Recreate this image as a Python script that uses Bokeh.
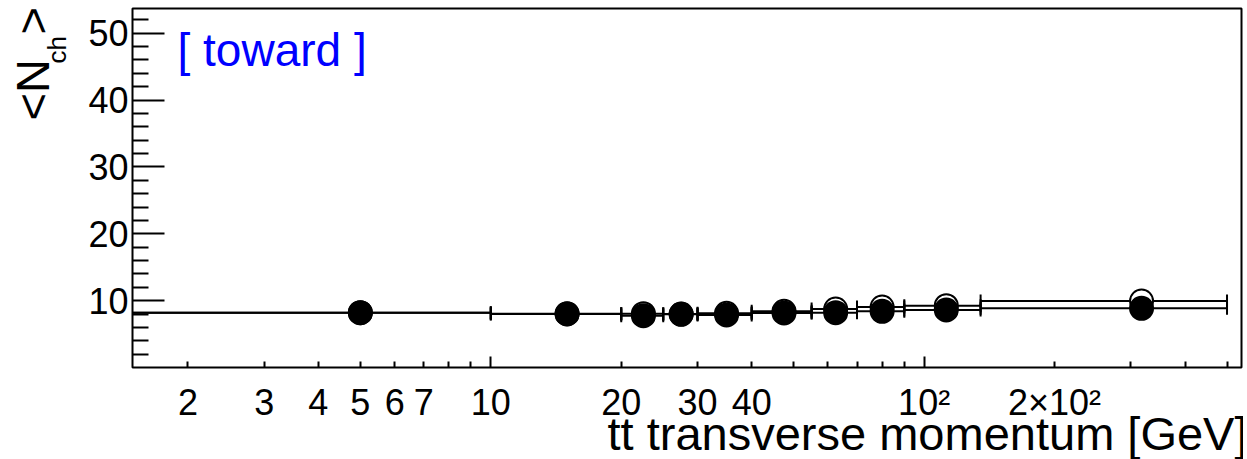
import numpy as np
from math import pi
from bokeh.plotting import figure
from bokeh.layouts import row
from bokeh.models import Range1d, FixedTicker, LogAxis, Label, Title
from bokeh.embed import file_html
from bokeh.resources import INLINE

# ---- data ----
bin_lo = [0, 10, 20, 25, 30, 40, 55, 70, 90, 135]
bin_hi = [10, 20, 25, 30, 40, 55, 70, 90, 135, 500]
bin_center = [5, 15, 22.5, 27.5, 35, 47.5, 62.5, 80, 112.5, 317.5]
nch_filled = [8.2, 8.0, 7.75, 7.95, 7.85, 8.15, 8.2, 8.4, 8.6, 8.85]
nch_open = [8.2, 8.05, 8.05, 8.0, 8.1, 8.4, 8.75, 9.05, 9.25, 9.95]

x_label_ticks = [2, 3, 4, 5, 6, 7, 10, 20, 30, 40, 100, 200]
x_label_text = ["2", "3", "4", "5", "6", "7", "10", "20", "30", "40", "10\u00b2", "2\u00d710\u00b2"]
x_major_ticks = [10, 100]
x_minor_ticks = [2, 3, 4, 5, 6, 7, 8, 9, 20, 30, 40, 50, 60, 70, 80, 90, 200, 300, 400, 500]
y_major_ticks = [10, 20, 30, 40, 50]
y_minor_ticks = [2, 4, 6, 8, 12, 14, 16, 18, 22, 24, 26, 28, 32, 34, 36, 38, 42, 44, 46, 48, 52]

FONT = "Liberation Sans"
H = 459
LEFT_W = 70
BORDER_TOP = 8
BORDER_BOTTOM = 92
FRAME_BOTTOM = H - BORDER_BOTTOM

# ---- main plot ----
p = figure(width=1173, height=H, x_axis_type="log",
           x_range=Range1d(1.49, 540), y_range=Range1d(0, 53.7),
           output_backend="svg", toolbar_location=None,
           min_border_left=62, min_border_right=2,
           min_border_top=BORDER_TOP, min_border_bottom=BORDER_BOTTOM)
p.background_fill_color = "white"
p.border_fill_color = "white"
p.outline_line_color = "black"
p.outline_line_width = 2
p.xgrid.visible = False
p.ygrid.visible = False

# x axis A: ticks only
xa = p.xaxis[0]
xa.ticker = FixedTicker(ticks=x_major_ticks, minor_ticks=x_minor_ticks)
xa.axis_line_color = None
xa.major_tick_in = 11
xa.major_tick_out = 0
xa.minor_tick_in = 6
xa.minor_tick_out = 0
xa.major_tick_line_width = 2
xa.minor_tick_line_width = 2
xa.major_label_text_font_size = "0px"
xa.major_label_standoff = 0
xa.major_label_overrides = {t: "" for t in x_major_ticks}

# x axis B: labels only
xb = LogAxis(ticker=FixedTicker(ticks=x_label_ticks, minor_ticks=[]))
xb.axis_line_color = None
xb.major_tick_in = 0
xb.major_tick_out = 0
xb.minor_tick_in = 0
xb.minor_tick_out = 0
xb.major_tick_line_color = None
xb.minor_tick_line_color = None
xb.major_label_overrides = dict(zip(x_label_ticks, x_label_text))
xb.major_label_text_font = FONT
xb.major_label_text_font_size = "36px"
xb.major_label_text_color = "black"
xb.major_label_standoff = 14
p.add_layout(xb, "below")

# x title
p.add_layout(Title(text="tt transverse momentum [GeV]", align="right", vertical_align="bottom",
                   standoff=-41, offset=-6, text_font=FONT, text_font_size="47px",
                   text_font_style="normal", text_color="black"), "below")

# y axis
ya = p.yaxis[0]
ya.ticker = FixedTicker(ticks=y_major_ticks, minor_ticks=y_minor_ticks)
ya.axis_line_color = None
ya.major_tick_in = 32
ya.major_tick_out = 0
ya.minor_tick_in = 16
ya.minor_tick_out = 0
ya.major_tick_line_width = 2
ya.minor_tick_line_width = 2
ya.major_label_text_font = FONT
ya.major_label_text_font_size = "36px"
ya.major_label_text_color = "black"
ya.major_label_standoff = 4

lo_draw = np.maximum(np.array(bin_lo, dtype=float), 1.0)
hi = np.array(bin_hi, dtype=float)

def draw_series(yvals, fill):
    y = np.array(yvals, dtype=float)
    p.segment(x0=lo_draw, y0=y, x1=hi, y1=y, line_color="black", line_width=2)
    p.scatter(x=hi, y=y, marker="dash", angle=pi / 2, size=13, line_color="black", line_width=2)
    p.scatter(x=lo_draw, y=y, marker="dash", angle=pi / 2, size=13, line_color="black", line_width=2)
    p.scatter(x=bin_center, y=y, marker="circle", size=23, fill_color=fill,
              line_color="black", line_width=2)

draw_series(nch_open, "white")
draw_series(nch_filled, "black")

p.add_layout(Label(x=45, y=318, x_units="screen", y_units="screen", text="[ toward ]",
                   text_font=FONT, text_font_size="46px", text_color="#0000ff",
                   text_align="left", text_baseline="middle"))

# ---- left strip with the y title <N_ch> ----
yl = figure(width=LEFT_W, height=H, x_range=Range1d(0, 1), y_range=Range1d(0, 1),
            output_backend="svg", toolbar_location=None,
            x_axis_location=None, y_axis_location=None,
            min_border_left=0, min_border_right=0,
            min_border_top=BORDER_TOP, min_border_bottom=BORDER_BOTTOM)
yl.outline_line_color = None
yl.background_fill_color = "white"
yl.border_fill_color = "white"
yl.xgrid.visible = False
yl.ygrid.visible = False

def ylab(text, x, ytop, size):
    yl.add_layout(Label(x=x, y=FRAME_BOTTOM - ytop, x_units="screen", y_units="screen", text=text,
                        angle=pi / 2, text_font=FONT, text_font_size=size, text_color="black",
                        text_align="left", text_baseline="middle"))

ylab("<N", 32, 120, "47px")
ylab("ch", 56, 63, "26px")
ylab(">", 32, 34, "47px")

layout = row(yl, p)
open("out.html", "w").write(file_html(layout, INLINE))
